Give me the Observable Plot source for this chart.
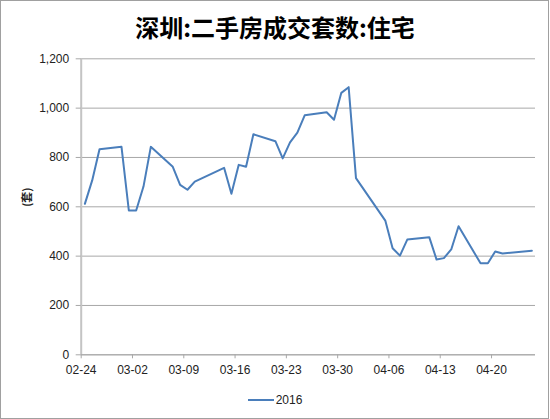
<!DOCTYPE html>
<html><head><meta charset="utf-8">
<script src="https://cdn.jsdelivr.net/npm/d3@7"></script>
<script src="https://cdn.jsdelivr.net/npm/@observablehq/plot@0.6"></script>
<style>
body{margin:0;background:#fff;}
#wrap{position:relative;width:550px;height:419px;overflow:hidden;background:#fff;}
#frame{position:absolute;left:0;top:0;width:549px;height:419px;box-sizing:border-box;border:1px solid #a0a0a0;pointer-events:none;}
#title{position:absolute;top:14px;left:0;width:550px;text-align:center;font-family:"Noto Sans CJK SC",sans-serif;font-weight:bold;font-size:24px;line-height:26px;color:#000;}
#chart{position:absolute;left:0;top:45px;}
#legend{position:absolute;top:391px;left:0;width:550px;display:flex;justify-content:center;align-items:center;font-family:"Liberation Sans",Arial,sans-serif;font-size:12px;color:#222;height:18px;}
#legend .sw{display:inline-block;width:26px;height:2px;background:#4A7EBB;margin-right:2px;}
</style></head>
<body>
<div id="wrap">
  <div id="title">深圳:二手房成交套数:住宅</div>
  <div id="chart"></div>
  <div id="legend"><span class="sw"></span><span>2016</span></div>
  <div id="frame"></div>
</div>
<script>
const seriesName = "2016";
const dates = [
  "2016-02-24","2016-02-25","2016-02-26","2016-02-29","2016-03-01","2016-03-02","2016-03-03","2016-03-04",
  "2016-03-07","2016-03-08","2016-03-09","2016-03-10",
  "2016-03-14","2016-03-15","2016-03-16","2016-03-17","2016-03-18",
  "2016-03-21","2016-03-22","2016-03-23","2016-03-24","2016-03-25",
  "2016-03-28","2016-03-29","2016-03-30","2016-03-31","2016-04-01",
  "2016-04-05","2016-04-06","2016-04-07","2016-04-08",
  "2016-04-11","2016-04-12","2016-04-13","2016-04-14","2016-04-15",
  "2016-04-18","2016-04-19","2016-04-20","2016-04-21",
  "2016-04-25"
];
const values = [
  612, 707, 833, 843, 585, 585, 682, 843,
  762, 689, 669, 702,
  758, 653, 770, 762, 894,
  866, 796, 861, 901, 971,
  983, 953, 1062, 1085, 716,
  544, 432, 402, 467,
  477, 386, 392, 427, 521,
  371, 371, 419, 411,
  422
];
const yTicks = [0, 200, 400, 600, 800, 1000, 1200];
const xStart = "2016-02-24";
const xEnd = "2016-04-26";
const xTickLabels = ["02-24","03-02","03-09","03-16","03-23","03-30","04-06","04-13","04-20"];

const data = dates.map((d, i) => ({date: new Date(d), value: values[i]}));
const xTicks = xTickLabels.map(l => new Date("2016-" + l));
const x0 = new Date(xStart);

const chart = Plot.plot({
  width: 550,
  height: 335,
  marginLeft: 80.7,
  marginRight: 15,
  marginTop: 13.3,
  marginBottom: 25.7,
  style: {fontFamily: "'Liberation Sans', Arial, sans-serif", fontSize: "12px", color: "#222", background: "transparent"},
  x: {type: "utc", domain: [x0, new Date(xEnd)]},
  y: {domain: [0, 1200]},
  marks: [
    Plot.gridY(yTicks, {stroke: "#a8a8a8", strokeOpacity: 1, strokeWidth: 1}),
    Plot.ruleX([x0], {y1: 0, y2: 1200, stroke: "#c4c4c4", strokeWidth: 2}),
    Plot.ruleY([0], {stroke: "#a8a8a8", strokeWidth: 1}),
    Plot.axisY({ticks: yTicks, tickFormat: d3.format(","), tickSize: 5, tickPadding: 7, label: null, stroke: "#a8a8a8", fill: "#222"}),
    Plot.axisX({ticks: xTicks, tickFormat: d3.utcFormat("%m-%d"), tickSize: 4, tickPadding: 7, label: null, stroke: "#a8a8a8", fill: "#222"}),
    Plot.text(["(套)"], {frameAnchor: "left", dx: -53.5, rotate: -90, fontFamily: "Noto Sans CJK SC", fontWeight: "bold", fontSize: 11, fill: "#222"}),
    Plot.lineY(data, {x: d => d3.utcHour.offset(d.date, 12), y: "value", stroke: "#4A7EBB", strokeWidth: 2, strokeLinejoin: "round"})
  ]
});
document.getElementById("chart").appendChild(chart);
</script>
</body></html>
